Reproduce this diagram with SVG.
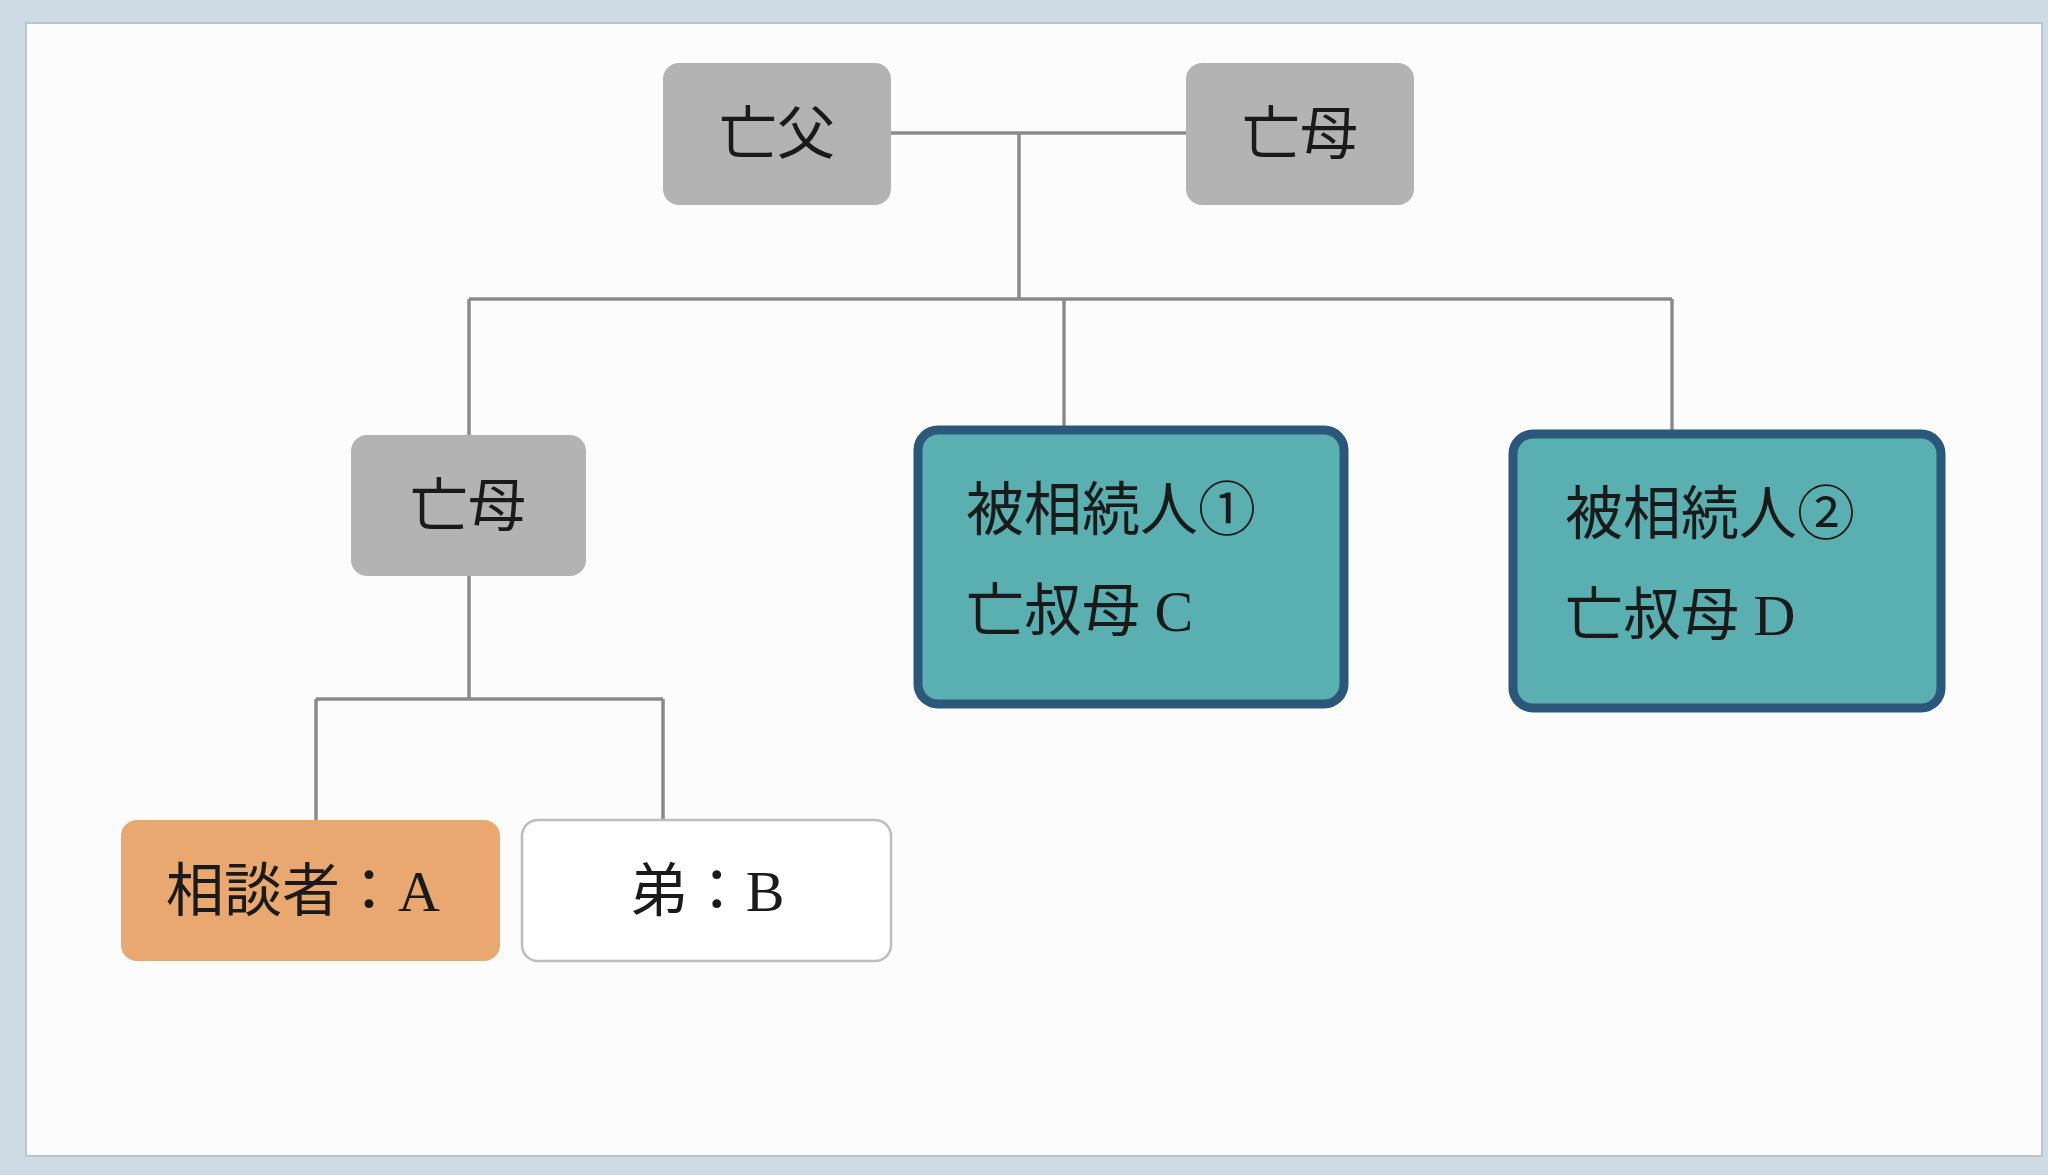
<svg xmlns="http://www.w3.org/2000/svg" width="2048" height="1175" viewBox="0 0 2048 1175">
<style>
.t{font-family:"Liberation Serif","Noto Sans CJK JP",serif;font-size:58px;fill:#1a1a1a}
.c{text-anchor:middle;dominant-baseline:central}
.gray{fill:#b3b3b3}
.teal{fill:#5aafb0;stroke:#2b587a;stroke-width:9}
.ln{stroke:#8a8a8a;stroke-width:3.5;fill:none}
</style>
<rect width="2048" height="1175" fill="#cfdbe4"/>
<rect x="26" y="23" width="2016" height="1133" fill="#fcfcfc" stroke="#b9c6d1" stroke-width="2"/>
<g id="connectors">
<path class="ln" d="M891 133H1186M1019 133V299M469 299H1672M469 299V435M1064 299V428M1672 299V432M469 576V699M316 699H663M316 699V820M663 699V820"/>
</g>
<g id="father"><rect class="gray" x="663" y="63" width="228" height="142" rx="16"/><text class="t c" x="777" y="134">亡父</text></g>
<g id="mother-top"><rect class="gray" x="1186" y="63" width="228" height="142" rx="16"/><text class="t c" x="1300" y="134">亡母</text></g>
<g id="mother-mid"><rect class="gray" x="351" y="435" width="235" height="141" rx="16"/><text class="t c" x="468" y="506">亡母</text></g>
<g id="decedent1"><rect class="teal" x="918" y="430" width="426" height="274" rx="20"/><text class="t" x="966" y="530" font-size="60">被相続人①</text><text class="t" x="966" y="631" font-size="60">亡叔母 C</text></g>
<g id="decedent2"><rect class="teal" x="1513" y="434" width="428" height="274" rx="20"/><text class="t" x="1565" y="534" font-size="60">被相続人②</text><text class="t" x="1565" y="635" font-size="60">亡叔母 D</text></g>
<g id="consultant"><rect x="121" y="820" width="379" height="141" rx="16" fill="#e8a870"/><text class="t c" x="303" y="891">相談者：A</text></g>
<g id="brother"><rect x="522" y="820" width="369" height="141" rx="16" fill="#fff" stroke="#bdbdbd" stroke-width="2.5"/><text class="t c" x="707" y="891">弟：B</text></g>
</svg>
